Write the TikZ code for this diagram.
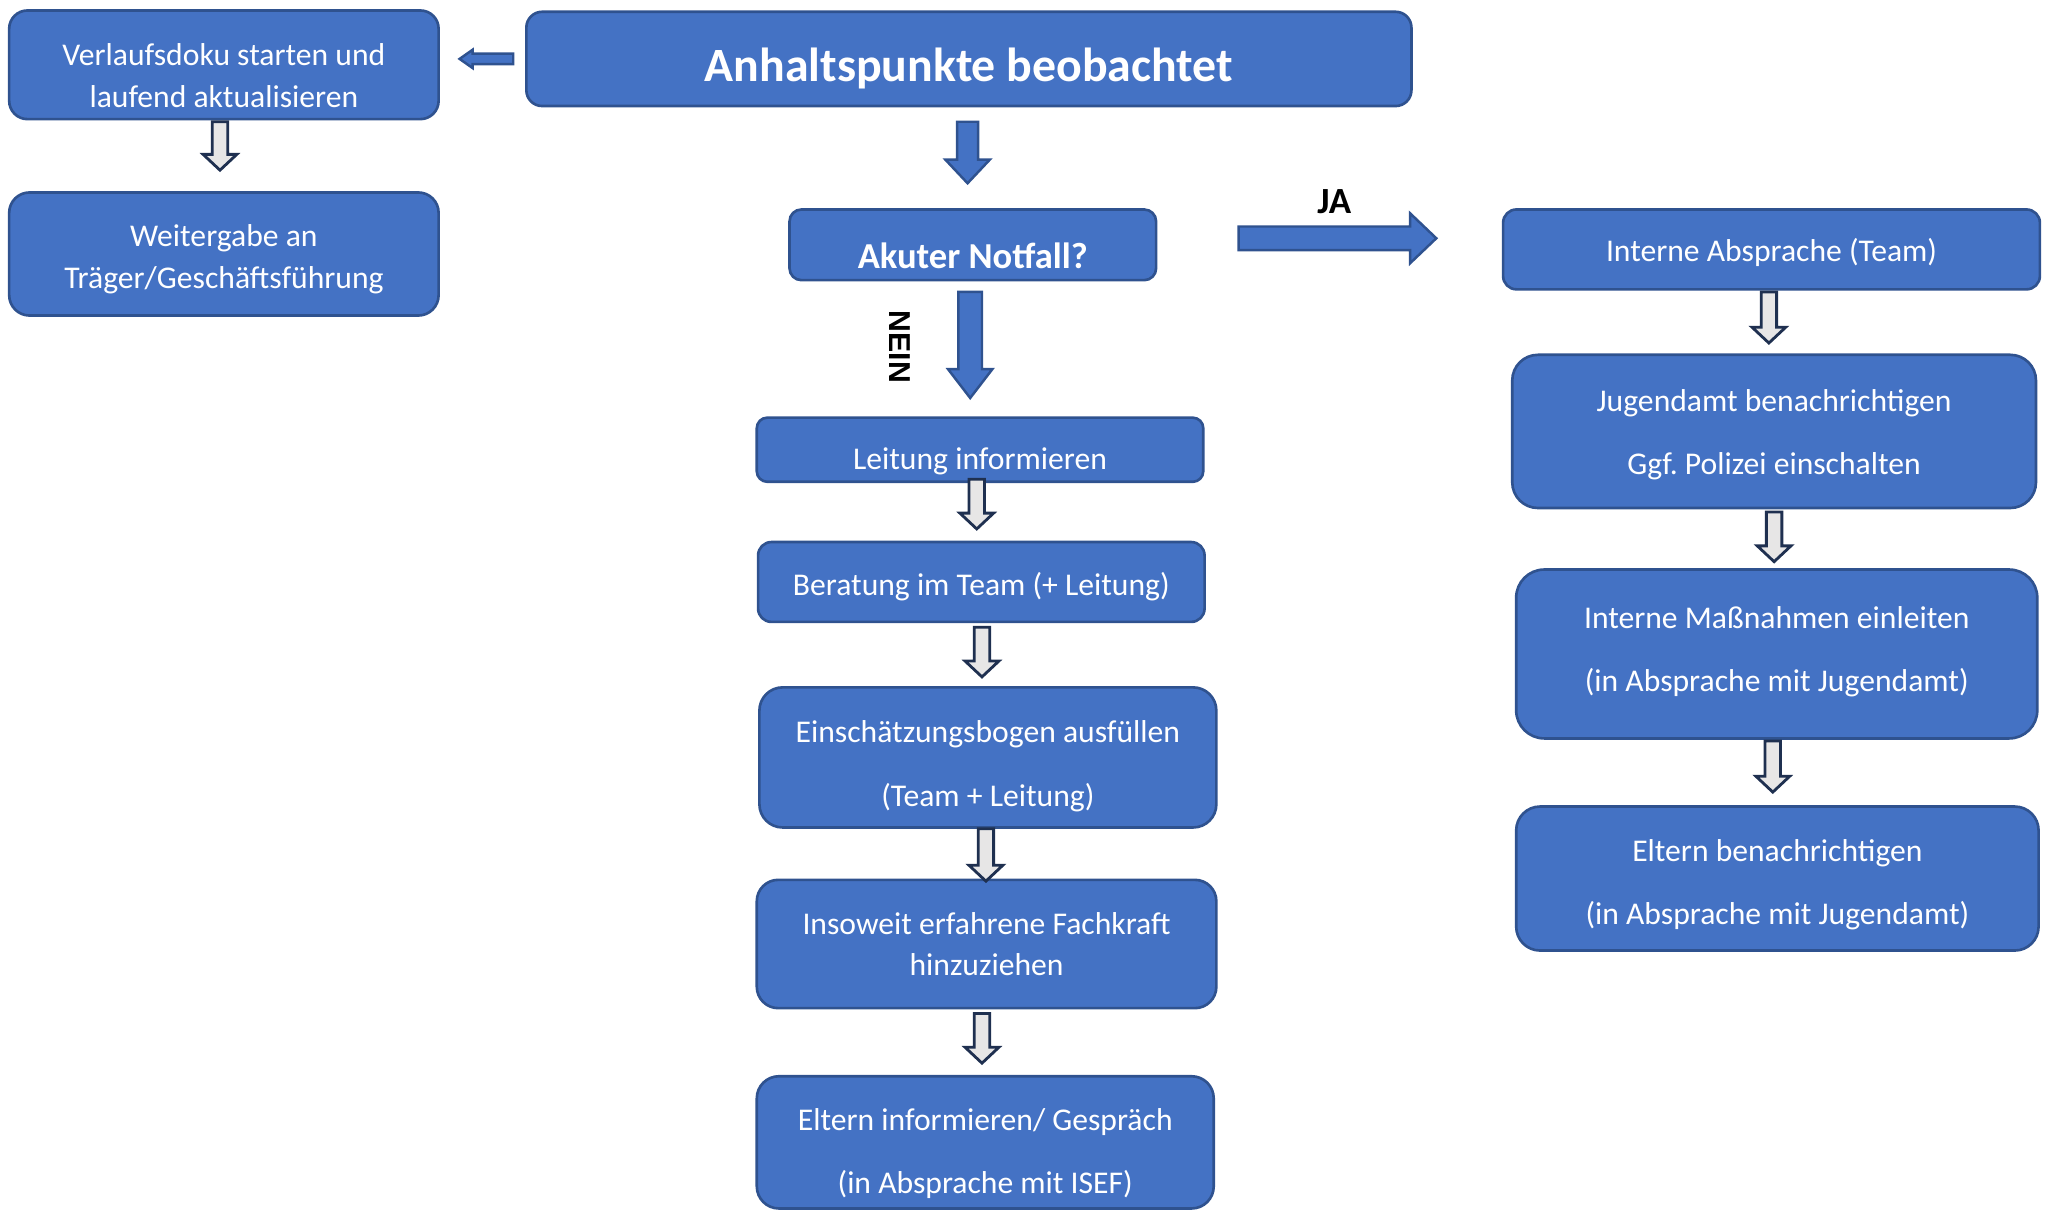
\documentclass[tikz,border=0pt]{standalone}
\usepackage{fontspec}
\setmainfont{Carlito}
\newfontfamily\labelfont{Liberation Sans}
\usepackage{tikz}
\usetikzlibrary{calc}
\frenchspacing

\definecolor{boxblue}{HTML}{4472C4}
\definecolor{boxline}{HTML}{2F528F}
\definecolor{arrowgray}{HTML}{E7E6E6}
\definecolor{arrowline}{HTML}{1F3050}

\newcommand\btext[2][0pt]{\raisebox{-#1}[\height][\depth]{\begin{tabular}{@{}c@{}}#2\end{tabular}}}

\tikzset{
  blk shaft/.store in=\blkshaft, blk head/.store in=\blkhead, blk len/.store in=\blklen,
  blk shaft=2.2pt, blk head=4.8pt, blk len=4.5pt,
  blkarrow/.style={to path={
    ($(\tikztotarget)!\blklen!(\tikztostart)$) coordinate (blkbase)
    ($(\tikztostart)!\blkshaft!90:(\tikztotarget)$)
    -- ($(blkbase)!\blkshaft!90:(\tikztotarget)$)
    -- ($(blkbase)!\blkhead!90:(\tikztotarget)$)
    -- (\tikztotarget)
    -- ($(blkbase)!\blkhead!-90:(\tikztotarget)$)
    -- ($(blkbase)!\blkshaft!-90:(\tikztotarget)$)
    -- ($(\tikztostart)!\blkshaft!-90:(\tikztotarget)$)
    -- cycle}}
}

\begin{document}
\begin{tikzpicture}[x=0.37246pt,y=-0.37246pt,
  box/.style={draw=boxline, fill=boxblue, line width=0.75pt, rounded corners=#1,
    text=white, font=\fontsize{9}{11.8}\selectfont, inner sep=0pt},
  box/.default=5pt,
  sz/.style 2 args={minimum width=#1*0.37246pt, minimum height=#2*0.37246pt},
  bluearr/.style={blkarrow, fill=boxblue, draw=boxline, line width=0.7pt},
  grayarr/.style={blkarrow, fill=arrowgray, draw=arrowline, line width=0.8pt}]

\useasboundingbox (0,0) rectangle (1568,924);

\node[box=5.2pt, sz={328}{83}] (verl) at (171,49.5) {\btext[3.8pt]{Verlaufsdoku starten und\\laufend aktualisieren}};
\node[box=5.8pt, sz={328}{94}] (weit) at (171,194) {\btext[1.5pt]{Weitergabe an\\Träger/Geschäftsführung}};
\node[box=4.5pt, sz={676}{72}, font=\bfseries\fontsize{13.6}{16}\selectfont] (anh) at (740,45) {\btext[3.25pt]{Anhaltspunkte beobachtet}};
\node[box=3.4pt, sz={280}{54}, font=\bfseries\fontsize{10.4}{12}\selectfont] (akut) at (743,187) {\btext[4.4pt]{Akuter Notfall?}};

\node[box=3pt, sz={341}{49}] (lei) at (748.5,343.5) {\btext[3.3pt]{Leitung informieren}};
\node[box=3.8pt, sz={341}{61}] (ber) at (749.5,444.5) {\btext[1.6pt]{Beratung im Team (+ Leitung)}};
\node[box=6.6pt, sz={349}{107}] (ein) at (754.5,578.5) {\btext[2.5pt]{Einschätzungsbogen ausfüllen\\[6.2pt](Team + Leitung)}};
\node[box=6.1pt, sz={351}{98}] (ins) at (753.5,721) {\btext[0.8pt]{Insoweit erfahrene Fachkraft\\hinzuziehen}};
\node[box=6.3pt, sz={349}{101}] (elt) at (752.5,872.5) {\btext[3.3pt]{Eltern informieren/ Gespräch\\[6.2pt](in Absprache mit ISEF)}};

\node[box=3.8pt, sz={410}{61}] (int) at (1353,190.5) {\btext[1pt]{Interne Absprache (Team)}};
\node[box=7.3pt, sz={400}{117}] (jug) at (1355,329.5) {\btext[0.9pt]{Jugendamt benachrichtigen\\[6.2pt]Ggf. Polizei einschalten}};
\node[box=8pt, sz={398}{129}] (mas) at (1357,499.5) {\btext[-0.65pt]{Interne Maßnahmen einleiten\\[6.2pt](in Absprache mit Jugendamt)}};
\node[box=6.8pt, sz={399}{110}] (eltb) at (1357.5,671) {\btext[1.8pt]{Eltern benachrichtigen\\[6.2pt](in Absprache mit Jugendamt)}};

\node[font=\bfseries\fontsize{10.5}{12}\selectfont] (ja) at (1019,154) {JA};
\node[font=\labelfont\bfseries\fontsize{8.6}{10}\selectfont, rotate=-90] (nein) at (687,265) {NEIN};

\draw[bluearr, blk shaft=1.5pt, blk head=2.6pt, blk len=3.7pt] ($(anh.west)+(-9,0)$) to ($(anh.west -| verl.east)+(15,0)$);
\draw[bluearr, blk shaft=3pt, blk head=6.3pt, blk len=6.7pt] ($(anh.south)+(-1,11)$) to ($(anh.south |- akut.north)+(-1,-19)$);
\draw[bluearr, blk shaft=3.35pt, blk head=7.1pt, blk len=7.45pt] ($(akut.east)+(62,-5)$) to ($(akut.east -| int.west)+(-50,-5)$);
\draw[bluearr, blk shaft=3.35pt, blk head=6.3pt, blk len=8.2pt] ($(akut.south)+(-2,8)$) to ($(akut.south |- lei.north)+(-2,-14)$);

\draw[grayarr] ($(verl.south)+(-3,1)$) to ($(weit.north)+(-3,-16)$);
\draw[grayarr] ($(lei.south)+(-2.5,-3)$) to ($(ber.north)+(-3.5,-9)$);
\draw[grayarr] ($(ber.south)+(0.5,3)$) to ($(ein.north)+(-4.5,-7)$);
\draw[grayarr] ($(ein.south)+(-1.5,0)$) to ($(ins.north)+(-0.5,2)$);
\draw[grayarr] ($(ins.south)+(-3.5,3)$) to ($(elt.north)+(-2.5,-9)$);
\draw[grayarr] ($(int.south)+(-2,1)$) to ($(jug.north)+(-4,-8)$);
\draw[grayarr] ($(jug.south)+(0,2)$) to ($(mas.north)+(-2,-5)$);
\draw[grayarr] ($(mas.south)+(-3,1)$) to ($(eltb.north)+(-3.5,-10)$);
\end{tikzpicture}
\end{document}
